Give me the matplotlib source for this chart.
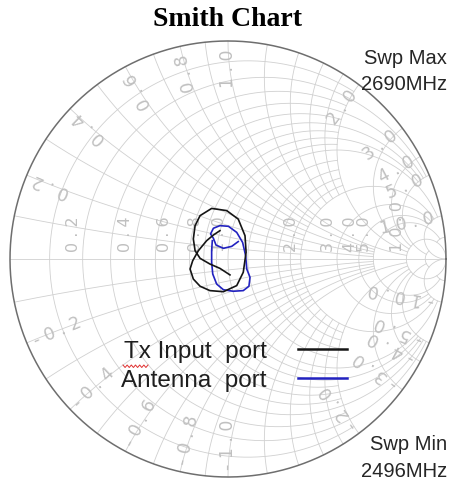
import numpy as np
import matplotlib.pyplot as plt
from matplotlib.lines import Line2D

tx_re = [0.009, -0.037, -0.083, -0.128, -0.151, -0.159, -0.151, -0.128, -0.075, -0.006,
         0.047, 0.078, 0.083, 0.070, 0.040, -0.021, -0.083, -0.128, -0.159, -0.174,
         -0.162, -0.136, -0.098, -0.067, -0.037]
tx_im = [-0.073, -0.043, -0.023, 0.003, 0.038, 0.092, 0.153, 0.199, 0.232, 0.222,
         0.183, 0.107, 0.031, -0.061, -0.122, -0.150, -0.145, -0.125, -0.092, -0.046,
         -0.008, 0.038, 0.084, 0.110, 0.130]

ant_re = [0.047, 0.017, -0.021, -0.055, -0.067, -0.080, -0.067, -0.037, 0.002, 0.040,
          0.067, 0.081, 0.086, 0.101, 0.096, 0.070, 0.024, -0.021, -0.052, -0.070,
          -0.075, -0.075, -0.072]
ant_im = [0.080, 0.058, 0.049, 0.064, 0.095, 0.115, 0.141, 0.153, 0.150, 0.122,
          0.076, 0.015, -0.046, -0.084, -0.125, -0.145, -0.148, -0.141, -0.115, -0.069,
          -0.015, 0.038, 0.084]

labels = ["Tx Input  port", "Antenna  port"]
colors = ["#151515", "#2222c0"]

# grid lines: (value, limit of the other coordinate)
r_grid = [(0.1, 2), (0.2, 5), (0.3, 2), (0.4, 5), (0.5, 2), (0.6, 5), (0.7, 2), (0.8, 5),
          (0.9, 2), (1.0, 10), (1.2, 2), (1.4, 2), (1.6, 2), (1.8, 2), (2.0, 10),
          (3.0, 10), (4.0, 10), (5.0, 20), (10.0, np.inf), (20.0, 10)]
x_grid = r_grid
r_ticks = [0.2, 0.4, 0.6, 0.8, 1.0, 2.0, 3.0, 4.0, 5.0, 10.0]
x_ticks = [0.2, 0.4, 0.6, 0.8, 1.0, 2.0, 3.0, 4.0, 5.0, 10.0]

W, H = 453, 481
cx, cy, R = 228, 260, 218
lim = 1.04
grid_c = "#d0d0d0"
lab_c = "#c0c0c0"

fig = plt.figure(figsize=(W / 100, H / 100), dpi=100)
ax = fig.add_axes([(cx - lim * R) / W, (H - cy - lim * R) / H, 2 * lim * R / W, 2 * lim * R / H])
ax.set_xlim(-lim, lim)
ax.set_ylim(-lim, lim)
ax.axis("off")


def gam(z):
    return (z - 1) / (z + 1)


def span(m):
    a = np.arctan(m) if np.isfinite(m) else np.pi / 2 * 0.9999
    return a


for r, xm in r_grid:
    a = span(xm)
    g = gam(r + 1j * np.tan(np.linspace(-a, a, 400)))
    ax.plot(g.real, g.imag, color=grid_c, lw=0.6, zorder=1)

for x, rm in x_grid:
    a = span(rm)
    t = np.tan(np.linspace(0, a, 300))
    for s in (1, -1):
        g = gam(t + 1j * s * x)
        ax.plot(g.real, g.imag, color=grid_c, lw=0.6, zorder=1)

ax.plot([-1, 1], [0, 0], color=grid_c, lw=0.6, zorder=1)
th = np.linspace(0, 2 * np.pi, 720)
ax.plot(np.cos(th), np.sin(th), color="#6e6e6e", lw=1.1, zorder=2)


def spaced(v):
    return " ".join("%.1f" % v)


# labels on the real axis, rotated
for r in r_ticks:
    g = gam(r)
    ax.text(g - 0.04, 0.037, spaced(r), rotation=90, rotation_mode="anchor",
            ha="left", va="center", fontsize=11.5, color=lab_c, zorder=1)

# labels round the edge
for x in x_ticks:
    for s in (1, -1):
        ang = np.angle(gam(1j * s * x))
        deg = np.degrees(ang)
        px, py = 0.965 * np.cos(ang), 0.965 * np.sin(ang)
        if s > 0:
            ax.text(px, py, spaced(x), rotation=deg, rotation_mode="anchor",
                    ha="right", va="center", fontsize=12.5, color=lab_c, zorder=1)
        else:
            ax.text(px, py, spaced(-x), rotation=deg + 180, rotation_mode="anchor",
                    ha="left", va="center", fontsize=12.5, color=lab_c, zorder=1)

ax.plot(tx_re, tx_im, color=colors[0], lw=1.2, zorder=4)
ax.plot(ant_re, ant_im, color=colors[1], lw=1.2, zorder=3)

fig.text(0.502, 1 - 20 / H, "Smith Chart", ha="center", va="center",
         fontsize=20, fontweight="bold", family="Liberation Serif")
txt = dict(ha="right", va="center", fontsize=14.5, family="Liberation Sans", color="#262626")
fig.text(447 / W, 1 - 58 / H, "Swp Max", **txt)
fig.text(447 / W, 1 - 85 / H, "2690MHz", **txt)
fig.text(447 / W, 1 - 445 / H, "Swp Min", **txt)
fig.text(447 / W, 1 - 472 / H, "2496MHz", **txt)

handles = [Line2D([], [], color=c, lw=1.8) for c in colors]
leg = fig.legend(handles, labels, loc="upper left", bbox_to_anchor=(121 / W, 1 - 341 / H),
                 frameon=False, markerfirst=False, handlelength=2.0,
                 handletextpad=1.3, labelspacing=0.3, borderpad=0, borderaxespad=0,
                 prop={"family": "Liberation Sans", "size": 17.5})
for t in leg.get_texts():
    t.set_color("#1e1e1e")

# spell-check squiggle under "Tx"
sx = np.linspace(123, 148, 13)
sy = np.where(np.arange(13) % 2 == 0, 366, 368.5)
fig.add_artist(Line2D(sx / W, 1 - sy / H, color="#e03030", lw=0.7))

fig.savefig("out.png", dpi=100)
